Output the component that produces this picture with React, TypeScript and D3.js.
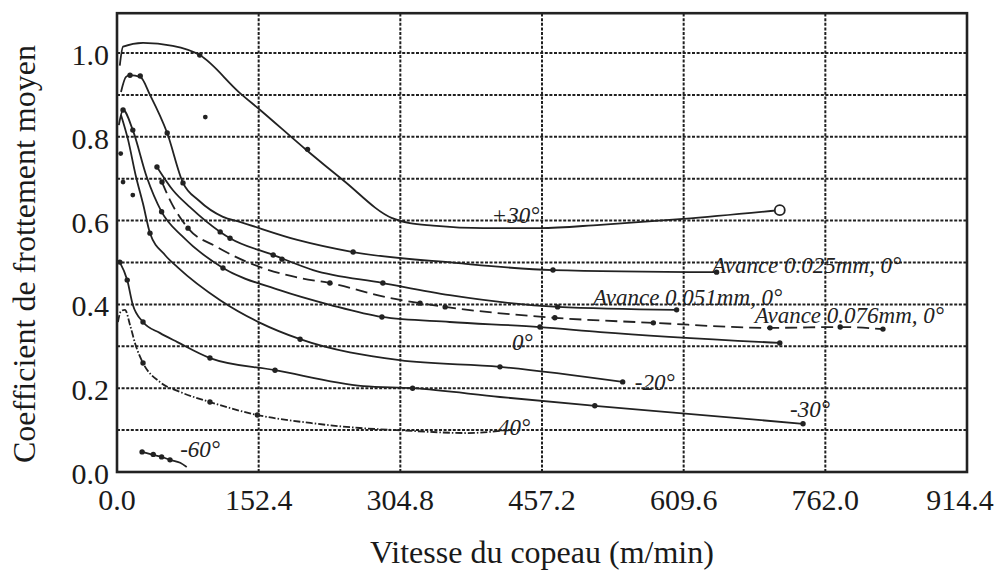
import React from 'react';
import * as d3 from 'd3';

type Pt = [number, number];

// axis ticks
const xTicks = [0, 152.4, 304.8, 457.2, 609.6, 762.0, 914.4];
const yTicks = [0, 0.2, 0.4, 0.6, 0.8, 1.0];
const yGrid = [0.1, 0.2, 0.3, 0.4, 0.5, 0.6, 0.7, 0.8, 0.9, 1.0];

// curves (vitesse m/min, coefficient)
const plus30: Pt[] = [[3, 0.97], [6.5, 1.015], [28, 1.024], [60, 1.017], [89, 0.995], [132, 0.905], [154, 0.864], [204, 0.768], [243, 0.697], [296, 0.606], [315, 0.594], [340, 0.588], [394, 0.582], [455, 0.582], [520, 0.59], [609, 0.604], [713, 0.625]];
const plus30Pts: Pt[] = [[89, 0.995], [205, 0.77]];

const avance025: Pt[] = [[4.3, 0.907], [9.7, 0.943], [14, 0.947], [25, 0.943], [35.5, 0.9], [54, 0.809], [71, 0.69], [88, 0.648], [114, 0.609], [132, 0.597], [194, 0.554], [254, 0.525], [364, 0.499], [469, 0.482], [645, 0.477]];
const avance025Pts: Pt[] = [[14, 0.947], [25, 0.945], [54, 0.809], [71, 0.69], [254, 0.525], [469, 0.482], [645, 0.477]];

const avance051: Pt[] = [[43, 0.728], [60, 0.673], [78.5, 0.632], [111, 0.573], [121.6, 0.558], [168, 0.518], [211, 0.482], [286, 0.451], [358, 0.422], [474, 0.394], [602, 0.387]];
const avance051Pts: Pt[] = [[43, 0.728], [111, 0.573], [121.6, 0.558], [168, 0.518], [177.5, 0.508], [286, 0.451], [474, 0.394], [602, 0.387]];

const avance076: Pt[] = [[48.4, 0.692], [57, 0.649], [76.4, 0.582], [107.6, 0.537], [154, 0.489], [197, 0.463], [229, 0.451], [294, 0.415], [326, 0.403], [353, 0.394], [471, 0.368], [577, 0.356], [702.5, 0.344], [778, 0.346], [824, 0.341]];
const avance076Pts: Pt[] = [[48.4, 0.692], [76.4, 0.582], [229, 0.451], [326, 0.403], [353, 0.394], [471, 0.368], [577, 0.356], [702.5, 0.344], [778, 0.346], [824, 0.341]];

const zero: Pt[] = [[2, 0.828], [6.5, 0.864], [17, 0.816], [32, 0.704], [48, 0.621], [71, 0.561], [114, 0.487], [175, 0.434], [229, 0.399], [285, 0.37], [358, 0.358], [455, 0.346], [520, 0.334], [713, 0.308]];
const zeroPts: Pt[] = [[6.5, 0.864], [17, 0.816], [48, 0.621], [114, 0.487], [285, 0.37], [455, 0.346], [713, 0.308]];

const minus20: Pt[] = [[4.3, 0.852], [12, 0.792], [20, 0.709], [28, 0.64], [35.5, 0.57], [51.6, 0.518], [65, 0.489], [111, 0.41], [154, 0.356], [197, 0.317], [304, 0.267], [412, 0.251], [544, 0.215]];
const minus20Pts: Pt[] = [[35.5, 0.57], [197, 0.317], [412, 0.251], [544, 0.215]];

const minus30: Pt[] = [[3, 0.501], [11, 0.458], [17, 0.399], [28, 0.358], [46, 0.332], [65, 0.31], [100, 0.272], [170, 0.243], [265, 0.205], [318, 0.2], [412, 0.179], [514, 0.158], [738, 0.115]];
const minus30Pts: Pt[] = [[3, 0.501], [11, 0.458], [28, 0.358], [100, 0.272], [170, 0.243], [318, 0.2], [514, 0.158], [738, 0.115]];

const minus40: Pt[] = [[1, 0.358], [4.3, 0.384], [8.6, 0.387], [14, 0.351], [20, 0.303], [28, 0.26], [46, 0.215], [68, 0.191], [100, 0.167], [151, 0.136], [208, 0.117], [261, 0.105], [301, 0.1], [377, 0.093], [412, 0.098]];
const minus40Pts: Pt[] = [[28, 0.26], [100, 0.167], [151, 0.136]];

const minus60: Pt[] = [[27, 0.048], [39, 0.041], [48, 0.036], [57, 0.029], [68, 0.022], [75, 0.012]];
const minus60Pts: Pt[] = [[27, 0.048], [39, 0.042], [48, 0.036], [57, 0.029]];

// loose points near the axis
const loosePts: Pt[] = [[4, 0.76], [6.5, 0.692], [17, 0.661], [95, 0.847]];

// curve labels: text, x, y (baseline start)
const labelTexts = ['+30°', 'Avance 0.025mm, 0°', 'Avance 0.051mm, 0°', 'Avance 0.076mm, 0°', '0°', '-20°', '-30°', '40°', '-60°'];
const labelX = [403, 640, 512, 686, 425, 557, 724, 410, 68];
const labelY = [0.594, 0.475, 0.399, 0.356, 0.291, 0.196, 0.131, 0.088, 0.036];

const FONT = "'Liberation Serif', 'Times New Roman', serif";
const INK = '#222';

export default function App() {
    const x = d3.scaleLinear().domain([0, 914.4]).range([117, 967]);
    const y = d3.scaleLinear().domain([0, 1]).range([472, 53]);
    const yTop = 1.095;

    const line = d3.line<Pt>()
        .x(d => x(d[0]))
        .y(d => y(d[1]))
        .curve(d3.curveMonotoneX);

    const curves = [
        { pts: plus30, marks: plus30Pts, dash: null },
        { pts: avance025, marks: avance025Pts, dash: null },
        { pts: avance051, marks: avance051Pts, dash: null },
        { pts: avance076, marks: avance076Pts, dash: '12,6' },
        { pts: zero, marks: zeroPts, dash: null },
        { pts: minus20, marks: minus20Pts, dash: null },
        { pts: minus30, marks: minus30Pts, dash: null },
        { pts: minus40, marks: minus40Pts, dash: '7,2,1.5,2' },
        { pts: minus60, marks: minus60Pts, dash: null },
    ];

    const last = plus30[plus30.length - 1];

    return (
        <svg width={1001} height={571} style={{ position: 'absolute', left: 0, top: 0, background: '#fff' }}>
            <rect x={0} y={0} width={1001} height={571} fill="#fff" />

            {/* grid */}
            <g stroke="#202020" strokeWidth={2} strokeDasharray="3,1.6" fill="none">
                {yGrid.map(v => (
                    <line key={'gy' + v} x1={x(0)} x2={x(914.4)} y1={y(v)} y2={y(v)} />
                ))}
                {xTicks.slice(1, -1).map(v => (
                    <line key={'gx' + v} x1={x(v)} x2={x(v)} y1={y(0)} y2={y(yTop)} />
                ))}
            </g>

            {/* frame */}
            <rect x={x(0)} y={y(yTop)} width={x(914.4) - x(0)} height={y(0) - y(yTop)}
                fill="none" stroke={INK} strokeWidth={2.6} />

            {/* curves */}
            <g fill="none" stroke={INK} strokeWidth={1.8}>
                {curves.map((c, i) => (
                    <path key={'c' + i} d={line(c.pts) || ''} strokeDasharray={c.dash || undefined} />
                ))}
            </g>

            {/* markers */}
            <g fill={INK}>
                {curves.map((c, i) => c.marks.map((p, j) => (
                    <circle key={'m' + i + '-' + j} cx={x(p[0])} cy={y(p[1])} r={2.7} />
                )))}
                {loosePts.map((p, j) => (
                    <circle key={'l' + j} cx={x(p[0])} cy={y(p[1])} r={2.4} />
                ))}
            </g>
            <circle cx={x(last[0])} cy={y(last[1])} r={5} fill="#fff" stroke={INK} strokeWidth={1.8} />

            {/* curve labels */}
            <g fontFamily={FONT} fontStyle="italic" fontSize={23} fill={INK}>
                {labelTexts.map((t, i) => (
                    <text key={'t' + i} x={x(labelX[i])} y={y(labelY[i])}>{t}</text>
                ))}
            </g>

            {/* tick labels */}
            <g fontFamily={FONT} fontSize={30} fill="#1a1a1a">
                {yTicks.map(v => (
                    <text key={'yt' + v} x={109} y={y(v) + 12} textAnchor="end">{v.toFixed(1)}</text>
                ))}
                {xTicks.map((v, i) => (
                    <text key={'xt' + v} x={x(v)} y={510} textAnchor="middle"
                        dx={i === xTicks.length - 1 ? -7 : 0}>{v.toFixed(1)}</text>
                ))}
            </g>

            {/* axis titles */}
            <text x={542} y={563} textAnchor="middle" fontFamily={FONT} fontSize={32} fill="#1a1a1a">
                Vitesse du copeau (m/min)
            </text>
            <text transform="translate(35,254) rotate(-90)" textAnchor="middle" fontFamily={FONT} fontSize={32} fill="#1a1a1a">
                Coefficient de frottement moyen
            </text>
        </svg>
    );
}
